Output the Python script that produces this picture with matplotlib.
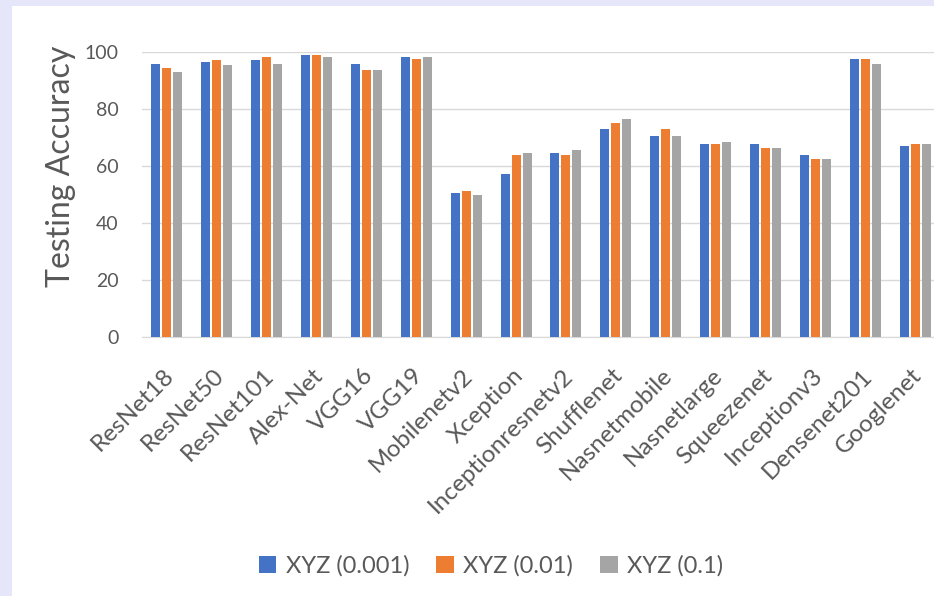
import matplotlib
matplotlib.use("Agg")
import matplotlib.pyplot as plt
import matplotlib.transforms as mtransforms
import numpy as np
from matplotlib.patches import Rectangle

plt.rcParams['font.family'] = ['Lato', 'DejaVu Sans']

models = ["ResNet18", "ResNet50", "ResNet101", "Alex-Net", "VGG16", "VGG19",
          "Mobilenetv2", "Xception", "Inceptionresnetv2", "Shufflenet",
          "Nasnetmobile", "Nasnetlarge", "Squeezenet", "Inceptionv3",
          "Densenet201", "Googlenet"]
acc_0001 = [95.7, 96.4, 97.1, 98.9, 95.7, 98.2, 50.6, 57.2, 64.5, 73.1,
            70.4, 67.7, 67.7, 63.8, 97.5, 67.1]
acc_001 = [94.4, 97.1, 98.4, 98.9, 93.7, 97.7, 51.2, 63.8, 63.8, 75.0,
           73.1, 67.7, 66.4, 62.5, 97.5, 67.7]
acc_01 = [93.1, 95.5, 95.7, 98.2, 93.7, 98.2, 49.8, 64.5, 65.7, 76.4,
          70.4, 68.4, 66.4, 62.5, 95.7, 67.7]
series_labels = ["XYZ (0.001)", "XYZ (0.01)", "XYZ (0.1)"]
colors = ["#4472C4", "#ED7D31", "#A5A5A5"]

W, H = 934, 596
fig = plt.figure(figsize=(W / 100, H / 100), dpi=100, facecolor="#E6E6FA")
# white chart panel inside the lavender frame
panel = Rectangle((12 / W, 0), 1, 1 - 6 / H, transform=fig.transFigure,
                  facecolor="white", edgecolor="none", zorder=-1)
fig.add_artist(panel)

ax = fig.add_axes([142 / W, 1 - 337 / H, (940 - 142) / W, (337 - 52) / H])
ax.set_facecolor("none")
ax.set_zorder(2)

x = np.arange(len(models))
step, width = 0.22, 0.18
for i, (vals, lab, col) in enumerate(zip([acc_0001, acc_001, acc_01], series_labels, colors)):
    ax.bar(x + (i - 1) * step, vals, width, color=col, label=lab, zorder=3)

ax.set_xlim(-0.5, len(models) - 0.5)
ax.set_ylim(0, 100)
ax.set_yticks(range(0, 101, 20))
ax.yaxis.grid(True, color="#D9D9D9", linewidth=1)
ax.set_axisbelow(True)
for s in ["top", "right", "left"]:
    ax.spines[s].set_visible(False)
ax.spines["bottom"].set_color("#D9D9D9")
ax.tick_params(axis="both", length=0, colors="#595959", labelsize=14)
ax.tick_params(axis="y", pad=17)
ax.set_xticks(x)
ax.set_xticklabels(models, rotation=45, ha="right", rotation_mode="anchor", fontsize=17.5)
ax.tick_params(axis="x", pad=20)
# nudge the slanted labels a little to the left
shift = mtransforms.ScaledTranslation(-4 / 100, 0, fig.dpi_scale_trans)
for lbl in ax.get_xticklabels():
    lbl.set_transform(lbl.get_transform() + shift)
ax.set_ylabel("Testing Accuracy", fontsize=23, color="#595959")
ax.yaxis.set_label_coords(-0.083, 0.6)

handles, labels = ax.get_legend_handles_labels()
leg = fig.legend(handles, labels, loc="center", bbox_to_anchor=(491 / W, 1 - 566 / H),
                 ncol=3, frameon=False, fontsize=17, labelcolor="#595959",
                 handlelength=0.75, handleheight=0.75, handletextpad=0.4, columnspacing=1.13)
leg.set_zorder(3)

fig.savefig("out.png", dpi=100, facecolor=fig.get_facecolor())
